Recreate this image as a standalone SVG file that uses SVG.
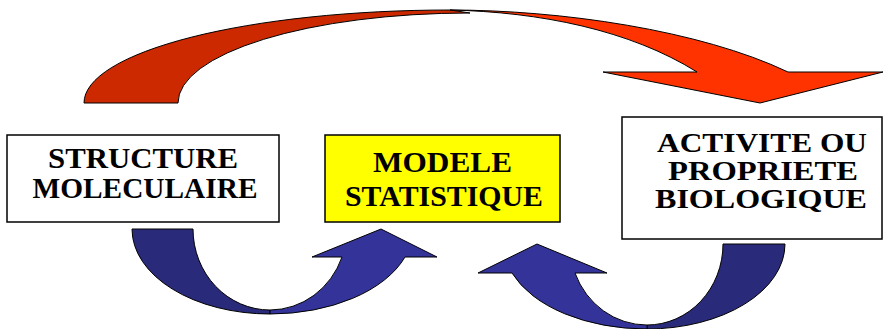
<svg xmlns="http://www.w3.org/2000/svg" width="884" height="329" viewBox="0 0 884 329">
<style>
.box{stroke:#000;stroke-width:1.5}
.t{font-family:"Liberation Serif","Times New Roman",serif;font-weight:bold;fill:#000;text-anchor:middle}
.a{stroke:#000;stroke-width:1;stroke-linejoin:miter}
.rd{fill:#CC2900}.rl{fill:#FF3300}.bd{fill:#2A2A7A}.bl{fill:#333399}
</style>
<rect width="884" height="329" fill="#fff"/>
<g id="connectors">
  <g id="top-arrow">
    <path class="a rd" d="M84,103 A366,93 0 0 1 450,10 L470,13 A292,90 0 0 0 178,103 Z"/>
    <path class="a rl" d="M450,10 C560,10 700,30 788,72 L883,72 L760,103 L603,72 L697,72 C630,30 540,12 450,10 Z"/>
  </g>
  <g id="left-arrow">
    <path class="a bd" d="M132,229 A138,85 0 0 0 270,314 L270,310 A77,81 0 0 1 193,229 Z"/>
    <path class="a bl" d="M270,314 A143,85 0 0 0 405,257 L437,257 L381,229 L312,257 L342,257 A77,81 0 0 1 270,310 Z"/>
  </g>
  <g id="right-arrow">
    <path class="a bd" d="M785,244 A138,85 0 0 1 647,329 L647,325 A76,81 0 0 0 723,244 Z"/>
    <path class="a bl" d="M647,329 A143,85 0 0 1 512,273 L478,273 L537,244 L607,273 L575,273 A77,81 0 0 0 647,325 Z"/>
  </g>
</g>
<g id="structure">
  <rect class="box" x="7" y="135" width="272" height="87" fill="#fff"/>
  <text class="t" font-size="29" x="143" y="168" textLength="190" lengthAdjust="spacingAndGlyphs">STRUCTURE</text>
  <text class="t" font-size="29" x="145" y="198" textLength="225" lengthAdjust="spacingAndGlyphs">MOLECULAIRE</text>
</g>
<g id="modele">
  <rect class="box" x="325" y="135" width="235" height="87" fill="#FFFF00"/>
  <text class="t" font-size="30" x="442.5" y="172" textLength="139" lengthAdjust="spacingAndGlyphs">MODELE</text>
  <text class="t" font-size="30" x="444" y="206" textLength="198" lengthAdjust="spacingAndGlyphs">STATISTIQUE</text>
</g>
<g id="activite">
  <rect class="box" x="622" y="117" width="260" height="122" fill="#fff"/>
  <text class="t" font-size="27" x="762" y="152" textLength="210" lengthAdjust="spacingAndGlyphs">ACTIVITE OU</text>
  <text class="t" font-size="27" x="763" y="180" textLength="190" lengthAdjust="spacingAndGlyphs">PROPRIETE</text>
  <text class="t" font-size="27" x="761" y="208" textLength="212" lengthAdjust="spacingAndGlyphs">BIOLOGIQUE</text>
</g>
</svg>
